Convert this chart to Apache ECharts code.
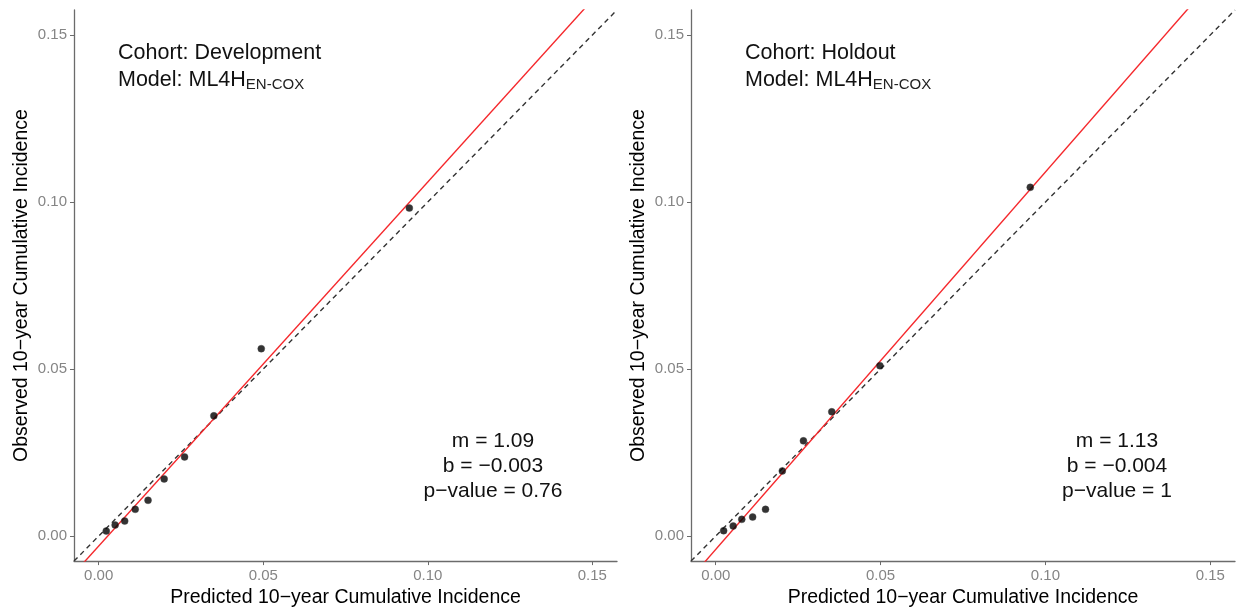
<!DOCTYPE html>
<html>
<head>
<meta charset="utf-8">
<script src="https://cdn.jsdelivr.net/npm/echarts@6/dist/echarts.min.js"></script>
<style>
  html, body { margin: 0; padding: 0; background: #fff; }
  #chart { width: 1238px; height: 613px; }
</style>
</head>
<body>
<div id="chart"></div>
<script>
// axis range: 0..0.15 with ggplot-style 5% expansion
const axisMin = -0.0075
const axisMax = 0.1575
const tickValues = [0, 0.05, 0.1, 0.15]

// development cohort: [predicted, observed]
const devPoints = [
  [0.0023, 0.0015], [0.0050, 0.0033], [0.0079, 0.0045], [0.0111, 0.0080],
  [0.0150, 0.0107], [0.0199, 0.0171], [0.0261, 0.0237], [0.0350, 0.0360],
  [0.0494, 0.0561], [0.0944, 0.0982]
]
// holdout cohort
const holdPoints = [
  [0.0024, 0.0016], [0.0053, 0.0030], [0.0079, 0.0050], [0.0112, 0.0057],
  [0.0151, 0.0080], [0.0202, 0.0195], [0.0266, 0.0285], [0.0352, 0.0372],
  [0.0498, 0.0510], [0.0954, 0.1044]
]

const devFit = { m: 1.09, b: -0.003, p: '0.76' }
const holdFit = { m: 1.13, b: -0.004, p: '1' }

const cohorts = ['Development', 'Holdout']
const xTitle = 'Predicted 10\u2212year Cumulative Incidence'
const yTitle = 'Observed 10\u2212year Cumulative Incidence'

const font = '"Liberation Sans", Arial, sans-serif'
const axisColor = '#6b6b6b'
const labelColor = '#858585'

const chart = echarts.init(document.getElementById('chart'), null, { renderer: 'canvas' })

function fitLine(fit) {
  return [axisMin, axisMax].map((x) => [x, fit.m * x + fit.b])
}

function makeAxis(gridIndex, isX) {
  return {
    type: 'value',
    gridIndex,
    min: axisMin,
    max: axisMax,
    name: isX ? xTitle : yTitle,
    nameLocation: 'middle',
    nameGap: isX ? 23 : 42,
    nameTextStyle: { color: '#000', fontSize: 19.5, fontFamily: font },
    axisLine: { onZero: false, lineStyle: { color: axisColor, width: 1.3 } },
    axisTick: { show: true, length: 4, customValues: tickValues, lineStyle: { color: axisColor } },
    axisLabel: {
      customValues: tickValues,
      color: labelColor,
      fontSize: 15,
      fontFamily: font,
      margin: 7,
      formatter: (v) => v.toFixed(2),
    },
    splitLine: { show: false },
  }
}

const grids = [
  { left: 74, top: 10, width: 543, height: 555 },
  { left: 691, top: 10, width: 544, height: 555 },
]

const pointSets = [devPoints, holdPoints]
const fits = [devFit, holdFit]

const series = []
pointSets.forEach((pts, i) => {
  series.push({
    type: 'line',
    xAxisIndex: i,
    yAxisIndex: i,
    data: [[axisMin, axisMin], [axisMax, axisMax]],
    showSymbol: false,
    clip: true,
    lineStyle: { color: '#333', width: 1.4, type: [5, 4] },
    silent: true,
    z: 2,
  })
  series.push({
    type: 'line',
    xAxisIndex: i,
    yAxisIndex: i,
    data: fitLine(fits[i]),
    showSymbol: false,
    clip: true,
    lineStyle: { color: '#f5282c', width: 1.4 },
    silent: true,
    z: 3,
  })
  series.push({
    type: 'scatter',
    xAxisIndex: i,
    yAxisIndex: i,
    data: pts,
    symbolSize: 7,
    itemStyle: { color: '#000', borderColor: '#444', borderWidth: 0.5 },
    z: 4,
  })
})

const labelX = [118, 745]
const statX = [493, 1117]
const graphic = []
cohorts.forEach((name, i) => {
  graphic.push({
    type: 'text',
    left: labelX[i],
    top: 40,
    style: {
      text: 'Cohort: ' + name + '\nModel: ML4H{sub|EN-COX}',
      fontSize: 21.5,
      fontFamily: font,
      fill: '#111',
      lineHeight: 27,
      rich: {
        sub: { fontSize: 15, fontFamily: font, fill: '#222', padding: [9, 0, 0, 0] },
      },
    },
  })
  const f = fits[i]
  graphic.push({
    type: 'text',
    x: statX[i],
    y: 429,
    style: {
      text: 'm = ' + f.m.toFixed(2) + '\nb = \u2212' + Math.abs(f.b).toFixed(3) + '\np\u2212value = ' + f.p,
      align: 'center',
      fontSize: 21,
      fontFamily: font,
      fill: '#111',
      lineHeight: 25,
    },
  })
})

chart.setOption({
  animation: false,
  backgroundColor: '#fff',
  grid: grids,
  xAxis: [makeAxis(0, true), makeAxis(1, true)],
  yAxis: [makeAxis(0, false), makeAxis(1, false)],
  series,
  graphic,
})
</script>
</body>
</html>
